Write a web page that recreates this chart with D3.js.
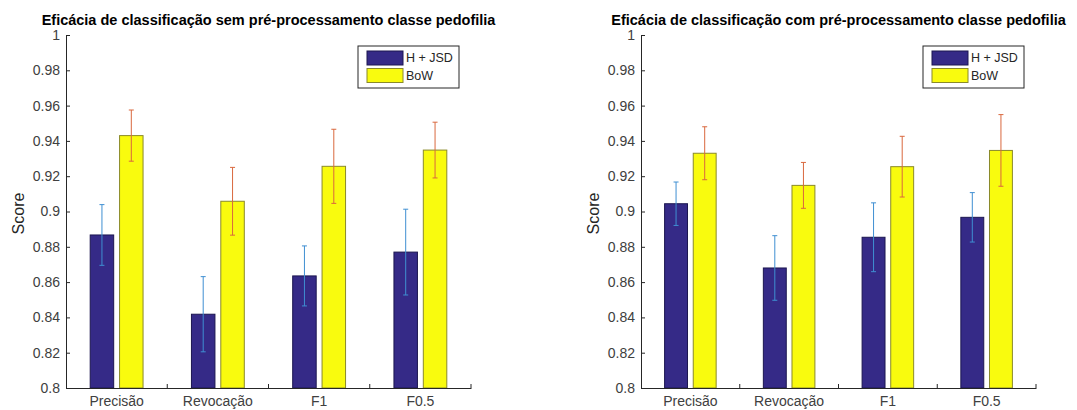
<!DOCTYPE html>
<html><head><meta charset="utf-8">
<script src="https://cdn.jsdelivr.net/npm/d3@7"></script>
<style>body{margin:0;background:#fff}svg{display:block;font-family:"Liberation Sans",Arial,sans-serif}</style>
</head><body><svg id="c" width="1077" height="410"></svg>
<script>
const categories = ["Precisão", "Revocação", "F1", "F0.5"];
const seriesNames = ["H + JSD", "BoW"];
const yTicks = [0.8, 0.82, 0.84, 0.86, 0.88, 0.9, 0.92, 0.94, 0.96, 0.98, 1];
const titles = ["Eficácia de classificação sem pré-processamento classe pedofilia",
                "Eficácia de classificação com pré-processamento classe pedofilia"];
// chart 1 (sem pré-processamento)
const semHJSD = [0.8867, 0.8418, 0.8635, 0.877];
const semHJSDErr = [0.0172, 0.0213, 0.017, 0.0243];
const semBoW = [0.943, 0.9058, 0.9256, 0.9348];
const semBoWErr = [0.0145, 0.0192, 0.021, 0.0158];
// chart 2 (com pré-processamento)
const comHJSD = [0.9044, 0.868, 0.8854, 0.8967];
const comHJSDErr = [0.0123, 0.0183, 0.0195, 0.014];
const comBoW = [0.933, 0.9148, 0.9254, 0.9346];
const comBoWErr = [0.015, 0.013, 0.0172, 0.0203];

const charts = [
  {title: titles[0], vals: [semHJSD, semBoW], errs: [semHJSDErr, semBoWErr], x0: 66, x1: 471},
  {title: titles[1], vals: [comHJSD, comBoW], errs: [comHJSDErr, comBoWErr], x0: 641, x1: 1036}
];
const fills = ["#352a87", "#f9fb0e"];
const edges = ["#1c1650", "#8a8a2a"];
const errCol = ["#3f8fd2", "#d9683e"];
const svg = d3.select("#c");
const yTop = 35, yBot = 388;

charts.forEach(ch => {
  const g = svg.append("g");
  const x = d3.scaleBand().domain(categories).range([ch.x0, ch.x1]).padding(0);
  const y = d3.scaleLinear().domain([0.8, 1]).range([yBot, yTop]);
  const bw = x.bandwidth();
  const offs = [-0.145, 0.145];
  const w = 0.232 * bw;

  // bars
  ch.vals.forEach((vals, s) => {
    g.selectAll(null).data(vals).enter().append("rect")
      .attr("x", (d, i) => x(categories[i]) + bw / 2 + offs[s] * bw - w / 2)
      .attr("y", d => y(d))
      .attr("width", w)
      .attr("height", d => y(0.8) - y(d))
      .attr("fill", fills[s]).attr("stroke", edges[s]).attr("stroke-width", 1);
  });
  // error bars
  ch.vals.forEach((vals, s) => {
    const errs = ch.errs[s];
    vals.forEach((v, i) => {
      const cx = x(categories[i]) + bw / 2 + offs[s] * bw;
      const t = y(v + errs[i]), b = y(v - errs[i]);
      g.append("line").attr("x1", cx).attr("x2", cx).attr("y1", t).attr("y2", b)
        .attr("stroke", errCol[s]).attr("stroke-width", 1);
      [t, b].forEach(yy => g.append("line").attr("x1", cx - 2.5).attr("x2", cx + 2.5)
        .attr("y1", yy).attr("y2", yy).attr("stroke", errCol[s]).attr("stroke-width", 1));
    });
  });

  // y axis
  const ya = g.append("g").attr("transform", `translate(${ch.x0},0)`)
    .call(d3.axisLeft(y).tickValues(yTicks).tickFormat(d3.format("~g")).tickSize(-4).tickPadding(6).tickSizeOuter(0));
  ya.select(".domain").attr("stroke", "#262626");
  ya.selectAll(".tick line").attr("stroke", "#262626");
  ya.selectAll("text").attr("font-size", 14).attr("fill", "#404040");

  // x axis
  const xa = g.append("g").attr("transform", `translate(0,${yBot})`)
    .call(d3.axisBottom(x).tickSize(0).tickPadding(8).tickSizeOuter(0));
  xa.select(".domain").attr("stroke", "#262626");
  xa.selectAll("text").attr("font-size", 14).attr("fill", "#404040");
  const bounds = categories.slice(1).map(c => x(c)).concat([ch.x1]);
  g.selectAll(null).data(bounds).enter().append("line")
    .attr("x1", d => d).attr("x2", d => d).attr("y1", yBot).attr("y2", yBot - 4)
    .attr("stroke", "#262626");

  // y label
  g.append("text").attr("transform", `translate(${ch.x0 - 48},${(yTop + yBot) / 2 + 2}) rotate(-90)`)
    .attr("text-anchor", "middle").attr("dy", "0.35em").attr("font-size", 16).attr("fill", "#262626").text("Score");

  // title
  g.append("text").attr("x", (ch.x0 + ch.x1) / 2).attr("y", 25).attr("text-anchor", "middle")
    .attr("font-size", 14.5).attr("font-weight", "bold").attr("fill", "#000").text(ch.title);

  // legend
  const lx = ch.x1 - 113, ly = 46;
  const lg = g.append("g");
  lg.append("rect").attr("x", lx).attr("y", ly).attr("width", 101).attr("height", 42)
    .attr("fill", "#fff").attr("stroke", "#262626").attr("stroke-width", 1);
  seriesNames.forEach((nm, s) => {
    lg.append("rect").attr("x", lx + 9).attr("y", ly + 5 + s * 17.5).attr("width", 36).attr("height", 14)
      .attr("fill", fills[s]).attr("stroke", edges[s]);
    lg.append("text").attr("x", lx + 48).attr("y", ly + 12 + s * 17.5).attr("dy", "0.35em")
      .attr("font-size", 12.5).attr("fill", "#262626").text(nm);
  });
});
</script></body></html>
